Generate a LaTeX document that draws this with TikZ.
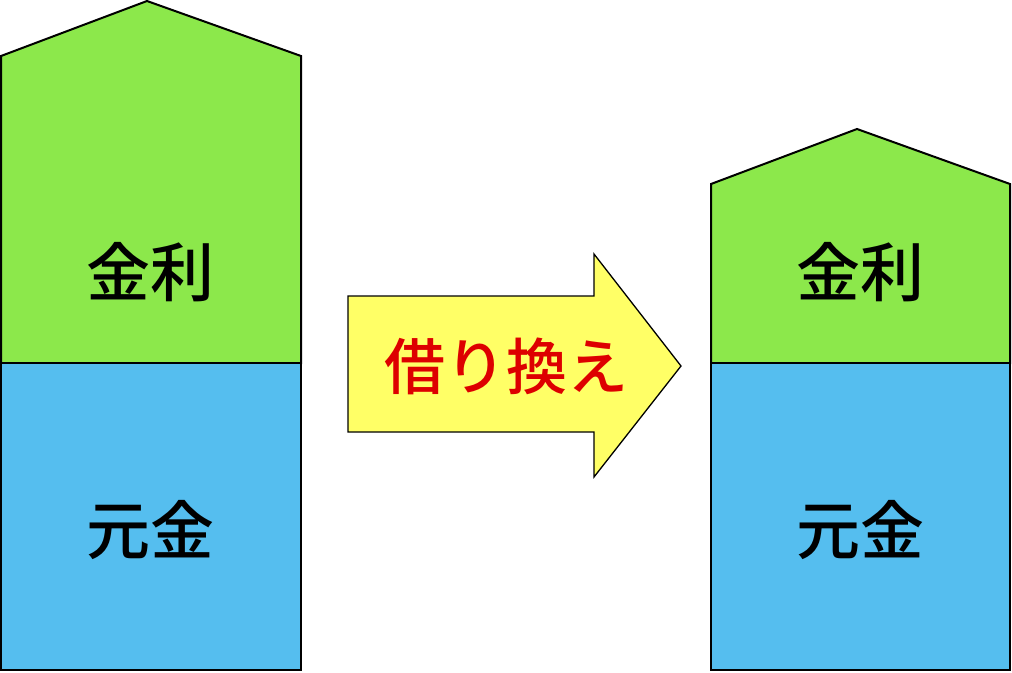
\documentclass[tikz,border=0pt]{standalone}
\usepackage{fontspec}
\newfontfamily\jpfont{Noto Sans CJK JP}[BoldFont={Noto Sans CJK JP Medium}]
\definecolor{rategreen}{HTML}{8CE84B}
\definecolor{loanblue}{HTML}{55BEEF}
\definecolor{arrowyellow}{HTML}{FFFF66}
\definecolor{swapred}{HTML}{DD0000}
\tikzset{
  lbl/.style={font=\jpfont\bfseries\fontsize{64}{64}\selectfont,text=black,inner sep=0pt},
  swaplbl/.style={font=\jpfont\bfseries\fontsize{61}{61}\selectfont,text=swapred,inner sep=0pt}
}
\begin{document}
\begin{tikzpicture}[x=1pt,y=-1pt,line width=2pt]
  \useasboundingbox (0,0) rectangle (1012,672);
  % before
  \draw[fill=rategreen] (1,363) -- (1,56) -- (147,1) -- (301,56) -- (301,363) -- cycle;
  \draw[fill=loanblue] (1,363) rectangle (301,670);
  \node[lbl] (rateA) at (150,272) {金利};
  \node[lbl] (baseA) at (150,530) {元金};
  % after
  \draw[fill=rategreen] (711,363) -- (711,184) -- (857,129) -- (1010,184) -- (1010,363) -- cycle;
  \draw[fill=loanblue] (711,363) rectangle (1010,670);
  \node[lbl] (rateB) at (860,272) {金利};
  \node[lbl] (baseB) at (860,530) {元金};
  % arrow
  \draw[fill=arrowyellow,line width=1.3pt] (348,296) -- (594,296) -- (594,254) -- (681,366)
    -- (594,477) -- (594,432) -- (348,432) -- cycle;
  \node[swaplbl] (swap) at (506,366) {借り換え};
\end{tikzpicture}
\end{document}
